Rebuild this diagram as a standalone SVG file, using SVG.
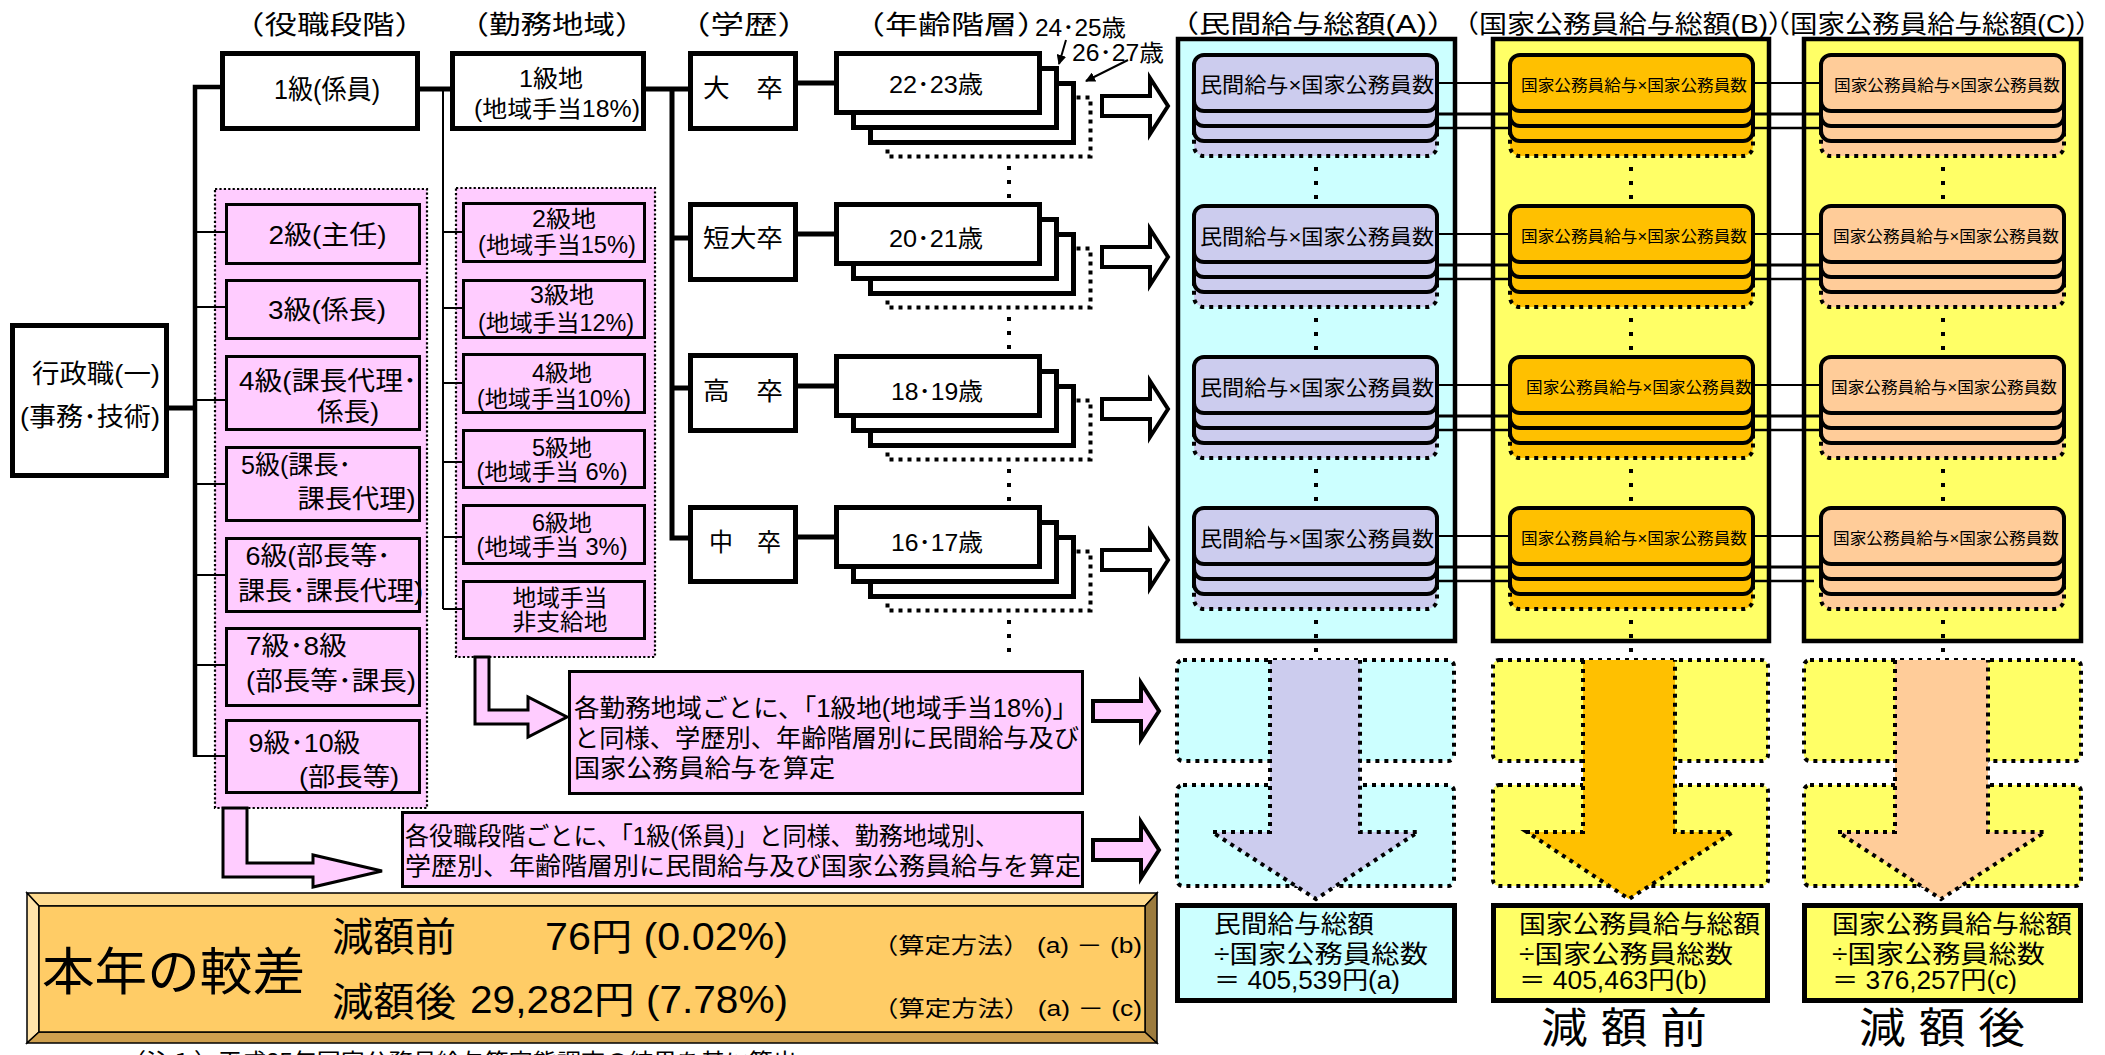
<svg xmlns="http://www.w3.org/2000/svg" width="2105" height="1055" viewBox="0 0 2105 1055">
<defs>
<style>
text{font-family:"Liberation Sans","Noto Sans CJK JP",sans-serif;fill:#000}
.m{text-anchor:middle}
.b5{fill:#fff;stroke:#000;stroke-width:5}
.pb{fill:#FFCCFF;stroke:#000;stroke-width:3}
.pc{fill:#FFCCFF;stroke:#000;stroke-width:2.2;stroke-dasharray:2.2 2.2}
.dot{stroke:#000;stroke-width:4;stroke-dasharray:4 5}
.dv{fill:none;stroke:#000;stroke-width:4;stroke-dasharray:4 10}
.k5{fill:none;stroke:#000;stroke-width:5}
.k4{fill:none;stroke:#000;stroke-width:4.5}
.k3{fill:none;stroke:#000;stroke-width:3}
.k2{fill:none;stroke:#000;stroke-width:2}
.cont{stroke:#000;stroke-width:4.5}
.card{stroke:#000;stroke-width:4}
.res{stroke:#000;stroke-width:5}
.bev{stroke:#000;stroke-width:1.5}
</style>
<marker id="ah" viewBox="0 0 10 10" refX="9" refY="5" markerWidth="5" markerHeight="5" orient="auto"><path d="M0,0 L10,5 L0,10 z" fill="#000"/></marker>
<g id="ageStack">
<rect x="53.5" y="46.5" width="203" height="59" fill="#fff" class="dot"/>
<rect x="36.5" y="32.5" width="203" height="59" class="b5"/>
<rect x="19.5" y="17.5" width="203" height="59" class="b5"/>
<rect x="2.5" y="2.5" width="203" height="59" class="b5"/>
</g>
<g id="cards">
<rect x="2" y="47" width="243" height="56" rx="10" class="dot"/>
<rect x="2" y="32" width="243" height="56" rx="10" class="card"/>
<rect x="2" y="17" width="243" height="56" rx="10" class="card"/>
<rect x="2" y="2" width="243" height="56" rx="10" class="card"/>
</g>
<path id="harr" d="M0,-10 H48 V-28 L66,0 L48,28 V10 H0 Z"/>
</defs>

<g id="headers">
<text class="m" x="329.5" y="34" font-size="26" textLength="195" lengthAdjust="spacingAndGlyphs">（役職段階）</text>
<text class="m" x="552" y="34" font-size="26" textLength="189" lengthAdjust="spacingAndGlyphs">（勤務地域）</text>
<text class="m" x="744" y="34" font-size="26" textLength="134" lengthAdjust="spacingAndGlyphs">（学歴）</text>
<text class="m" x="951" y="34" font-size="26" textLength="198" lengthAdjust="spacingAndGlyphs">（年齢階層）</text>
<text class="m" x="1313" y="33" font-size="25" textLength="290" lengthAdjust="spacingAndGlyphs">（民間給与総額(A)）</text>
<text class="m" x="1623.5" y="33" font-size="25" textLength="345" lengthAdjust="spacingAndGlyphs">（国家公務員給与総額(B)）</text>
<text class="m" x="1932.5" y="33" font-size="25" textLength="340" lengthAdjust="spacingAndGlyphs">（国家公務員給与総額(C)）</text>
<text x="1035" y="36" font-size="23" textLength="91" lengthAdjust="spacingAndGlyphs">24･25歳</text>
<text x="1072" y="61" font-size="23" textLength="92" lengthAdjust="spacingAndGlyphs">26･27歳</text>
</g>

<g id="containers">
<rect id="c-yakushoku" x="215" y="189" width="212" height="619" class="pc"/>
<rect id="c-kinmu" x="456" y="188" width="199" height="469" class="pc"/>
<rect id="c-A" x="1178" y="39" width="277" height="602" fill="#CCFFFF" class="cont"/>
<rect id="c-B" x="1493" y="39" width="276" height="602" fill="#FFFF66" class="cont"/>
<rect id="c-C" x="1804" y="39" width="277" height="602" fill="#FFFF66" class="cont"/>
</g>

<g id="connectors">
<path class="k4" d="M222,87 H195 V757"/>
<path class="k5" d="M169,408 H195"/>
<path class="k2" d="M195,232 H226 M195,307 H226 M195,400 H226 M195,484 H226 M195,575 H226 M195,665 H226 M195,756 H226"/>
<path class="k5" d="M420,89 H451"/>
<path class="k2" d="M443,89 V609 M443,232 H463 M443,308 H463 M443,383 H463 M443,462 H463 M443,537 H463 M443,609 H463"/>
<path class="k5" d="M645,89 H689 M672,89 V538 H689 M672,238 H689 M672,388 H689"/>
<path class="k5" d="M797,83 H835 M797,234 H835 M797,386 H835 M797,537 H835"/>
<path class="dv" d="M1009,166 V200 M1009,317 V351 M1009,469 V503 M1009,620 V654"/>
<path class="dv" d="M1316,167 V201 M1316,318 V352 M1316,469 V503 M1316,620 V654"/>
<path class="dv" d="M1631,167 V201 M1631,318 V352 M1631,469 V503 M1631,620 V654"/>
<path class="dv" d="M1943,167 V201 M1943,318 V352 M1943,469 V503 M1943,620 V654"/>
<path class="k2" d="M1439,83 H1508 M1439,234 H1508 M1439,385 H1508 M1439,536 H1508 M1755,83 H1819 M1755,234 H1819 M1755,385 H1819 M1755,536 H1819"/>
<path class="k3" d="M1439,114 H1508 M1439,265 H1508 M1439,416 H1508 M1439,567 H1508 M1755,114 H1819 M1755,265 H1819 M1755,416 H1819 M1755,567 H1819"/>
<path fill="none" stroke="#000" stroke-width="2.5" d="M1439,128 H1508 M1439,279 H1508 M1439,430 H1508 M1439,581 H1508 M1755,128 H1819 M1755,279 H1819 M1755,430 H1819 M1755,581 H1814"/>
<use href="#harr" x="1102" y="106" fill="#fff" stroke="#000" stroke-width="4"/>
<use href="#harr" x="1102" y="257" fill="#fff" stroke="#000" stroke-width="4"/>
<use href="#harr" x="1102" y="409" fill="#fff" stroke="#000" stroke-width="4"/>
<use href="#harr" x="1102" y="560" fill="#fff" stroke="#000" stroke-width="4"/>
<use href="#harr" x="1093" y="711" fill="#FFCCFF" stroke="#000" stroke-width="4"/>
<use href="#harr" x="1093" y="850" fill="#FFCCFF" stroke="#000" stroke-width="4"/>
<path class="pb" d="M223,808 H247 V863 H313 V855 L382,871 L313,887 V877 H223 Z"/>
<path class="pb" d="M475,657 H489 V710 H528 V697 L567,717 L528,737 V724 H475 Z"/>
<line x1="1066" y1="40" x2="1059" y2="64" stroke="#000" stroke-width="2" marker-end="url(#ah)"/>
<line x1="1128" y1="60" x2="1086" y2="81" stroke="#000" stroke-width="2" marker-end="url(#ah)"/>
</g>

<g id="n-gyoseishoku">
<rect x="12.5" y="325.5" width="154" height="150" class="b5"/>
<text class="m" x="96" y="383" font-size="26" textLength="128" lengthAdjust="spacingAndGlyphs">行政職(一)</text>
<text class="m" x="90" y="426" font-size="26" textLength="140" lengthAdjust="spacingAndGlyphs">(事務･技術)</text>
</g>

<g id="n-1kyu">
<rect x="222.5" y="53.5" width="195" height="75" class="b5"/>
<text class="m" x="327" y="99" font-size="27" textLength="106" lengthAdjust="spacingAndGlyphs">1級(係員)</text>
</g>
<g id="n-2kyu">
<rect x="226.5" y="204.5" width="193" height="59" class="pb"/>
<text class="m" x="327.5" y="244" font-size="26" textLength="118" lengthAdjust="spacingAndGlyphs">2級(主任)</text>
</g>
<g id="n-3kyu">
<rect x="226.5" y="280.5" width="193" height="58" class="pb"/>
<text class="m" x="327" y="319" font-size="26" textLength="118" lengthAdjust="spacingAndGlyphs">3級(係長)</text>
</g>
<g id="n-4kyu">
<rect x="226.5" y="356.5" width="193" height="73" class="pb"/>
<text class="m" x="328" y="390" font-size="26" textLength="178" lengthAdjust="spacingAndGlyphs">4級(課長代理･</text>
<text class="m" x="348" y="421" font-size="26" textLength="62" lengthAdjust="spacingAndGlyphs">係長)</text>
</g>
<g id="n-5kyu">
<rect x="226.5" y="447.5" width="193" height="73" class="pb"/>
<text class="m" x="296" y="474" font-size="26" textLength="110" lengthAdjust="spacingAndGlyphs">5級(課長･</text>
<text class="m" x="356.5" y="508" font-size="26" textLength="118" lengthAdjust="spacingAndGlyphs">課長代理)</text>
</g>
<g id="n-6kyu">
<rect x="226.5" y="538.5" width="193" height="73" class="pb"/>
<text class="m" x="318" y="565" font-size="26" textLength="145" lengthAdjust="spacingAndGlyphs">6級(部長等･</text>
<text class="m" x="330.5" y="600" font-size="26" textLength="185" lengthAdjust="spacingAndGlyphs">課長･課長代理)</text>
</g>
<g id="n-7kyu">
<rect x="226.5" y="628.5" width="193" height="77" class="pb"/>
<text class="m" x="296.5" y="655" font-size="26" textLength="101" lengthAdjust="spacingAndGlyphs">7級･8級</text>
<text class="m" x="331" y="690" font-size="26" textLength="170" lengthAdjust="spacingAndGlyphs">(部長等･課長)</text>
</g>
<g id="n-9kyu">
<rect x="226.5" y="720.5" width="193" height="72" class="pb"/>
<text class="m" x="304.5" y="752" font-size="26" textLength="112" lengthAdjust="spacingAndGlyphs">9級･10級</text>
<text class="m" x="349" y="786" font-size="26" textLength="100" lengthAdjust="spacingAndGlyphs">(部長等)</text>
</g>

<g id="n-1kyuchi">
<rect x="452.5" y="53.5" width="191" height="75" class="b5"/>
<text class="m" x="551" y="87" font-size="24" textLength="64" lengthAdjust="spacingAndGlyphs">1級地</text>
<text class="m" x="557" y="117" font-size="23" textLength="166" lengthAdjust="spacingAndGlyphs">(地域手当18%)</text>
</g>
<g id="n-2kyuchi">
<rect x="463.5" y="203.5" width="181" height="58" class="pb"/>
<text class="m" x="564" y="227" font-size="23" textLength="64" lengthAdjust="spacingAndGlyphs">2級地</text>
<text class="m" x="557" y="253" font-size="23" textLength="158" lengthAdjust="spacingAndGlyphs">(地域手当15%)</text>
</g>
<g id="n-3kyuchi">
<rect x="463.5" y="280.5" width="181" height="57" class="pb"/>
<text class="m" x="562" y="303" font-size="23" textLength="64" lengthAdjust="spacingAndGlyphs">3級地</text>
<text class="m" x="556" y="331" font-size="23" textLength="156" lengthAdjust="spacingAndGlyphs">(地域手当12%)</text>
</g>
<g id="n-4kyuchi">
<rect x="463.5" y="354.5" width="181" height="58" class="pb"/>
<text class="m" x="562" y="381" font-size="23" textLength="60" lengthAdjust="spacingAndGlyphs">4級地</text>
<text class="m" x="554" y="407" font-size="23" textLength="154" lengthAdjust="spacingAndGlyphs">(地域手当10%)</text>
</g>
<g id="n-5kyuchi">
<rect x="463.5" y="430.5" width="181" height="57" class="pb"/>
<text class="m" x="562" y="456" font-size="23" textLength="60" lengthAdjust="spacingAndGlyphs">5級地</text>
<text class="m" x="552" y="480" font-size="23" textLength="151" lengthAdjust="spacingAndGlyphs">(地域手当 6%)</text>
</g>
<g id="n-6kyuchi">
<rect x="463.5" y="505.5" width="181" height="58" class="pb"/>
<text class="m" x="562" y="531" font-size="23" textLength="60" lengthAdjust="spacingAndGlyphs">6級地</text>
<text class="m" x="552" y="555" font-size="23" textLength="151" lengthAdjust="spacingAndGlyphs">(地域手当 3%)</text>
</g>
<g id="n-hishikyu">
<rect x="463.5" y="581.5" width="181" height="57" class="pb"/>
<text class="m" x="560" y="606" font-size="23" textLength="95" lengthAdjust="spacingAndGlyphs">地域手当</text>
<text class="m" x="560" y="630" font-size="23" textLength="95" lengthAdjust="spacingAndGlyphs">非支給地</text>
</g>

<g id="n-daisotsu">
<rect x="690.5" y="53.5" width="105" height="75" class="b5"/>
<text class="m" x="743" y="97" font-size="25" textLength="80" lengthAdjust="spacingAndGlyphs">大　卒</text>
</g>
<g id="n-tandai">
<rect x="690.5" y="204.5" width="105" height="75" class="b5"/>
<text class="m" x="743" y="247" font-size="25" textLength="80" lengthAdjust="spacingAndGlyphs">短大卒</text>
</g>
<g id="n-kousotsu">
<rect x="690.5" y="355.5" width="105" height="75" class="b5"/>
<text class="m" x="743" y="400" font-size="25" textLength="80" lengthAdjust="spacingAndGlyphs">高　卒</text>
</g>
<g id="n-chuusotsu">
<rect x="690.5" y="507.5" width="105" height="74" class="b5"/>
<text class="m" x="745" y="551" font-size="25" textLength="72" lengthAdjust="spacingAndGlyphs">中　卒</text>
</g>

<g id="n-age1">
<use href="#ageStack" x="834" y="51"/>
<text class="m" x="936" y="93" font-size="24" textLength="94" lengthAdjust="spacingAndGlyphs">22･23歳</text>
</g>
<g id="n-age2">
<use href="#ageStack" x="834" y="202"/>
<text class="m" x="936" y="247" font-size="24" textLength="94" lengthAdjust="spacingAndGlyphs">20･21歳</text>
</g>
<g id="n-age3">
<use href="#ageStack" x="834" y="354"/>
<text class="m" x="937" y="400" font-size="24" textLength="92" lengthAdjust="spacingAndGlyphs">18･19歳</text>
</g>
<g id="n-age4">
<use href="#ageStack" x="834" y="505"/>
<text class="m" x="937" y="551" font-size="24" textLength="92" lengthAdjust="spacingAndGlyphs">16･17歳</text>
</g>

<g id="n-A-cards">
<use href="#cards" x="1192" y="53" fill="#CCCCEE"/>
<use href="#cards" x="1192" y="204" fill="#CCCCEE"/>
<use href="#cards" x="1192" y="355" fill="#CCCCEE"/>
<use href="#cards" x="1192" y="506" fill="#CCCCEE"/>
<text class="m" x="1317" y="92" font-size="21" textLength="234" lengthAdjust="spacingAndGlyphs">民間給与×国家公務員数</text>
<text class="m" x="1317" y="244" font-size="21" textLength="234" lengthAdjust="spacingAndGlyphs">民間給与×国家公務員数</text>
<text class="m" x="1317" y="395" font-size="21" textLength="234" lengthAdjust="spacingAndGlyphs">民間給与×国家公務員数</text>
<text class="m" x="1317" y="546" font-size="21" textLength="234" lengthAdjust="spacingAndGlyphs">民間給与×国家公務員数</text>
</g>
<g id="n-B-cards">
<use href="#cards" x="1508" y="53" fill="#FFC000"/>
<use href="#cards" x="1508" y="204" fill="#FFC000"/>
<use href="#cards" x="1508" y="355" fill="#FFC000"/>
<use href="#cards" x="1508" y="506" fill="#FFC000"/>
<text class="m" x="1634" y="91" font-size="16" textLength="226" lengthAdjust="spacingAndGlyphs">国家公務員給与×国家公務員数</text>
<text class="m" x="1634" y="242" font-size="16" textLength="226" lengthAdjust="spacingAndGlyphs">国家公務員給与×国家公務員数</text>
<text class="m" x="1639" y="393" font-size="16" textLength="226" lengthAdjust="spacingAndGlyphs">国家公務員給与×国家公務員数</text>
<text class="m" x="1634" y="544" font-size="16" textLength="226" lengthAdjust="spacingAndGlyphs">国家公務員給与×国家公務員数</text>
</g>
<g id="n-C-cards">
<use href="#cards" x="1819" y="53" fill="#FFCC99"/>
<use href="#cards" x="1819" y="204" fill="#FFCC99"/>
<use href="#cards" x="1819" y="355" fill="#FFCC99"/>
<use href="#cards" x="1819" y="506" fill="#FFCC99"/>
<text class="m" x="1947" y="91" font-size="16" textLength="226" lengthAdjust="spacingAndGlyphs">国家公務員給与×国家公務員数</text>
<text class="m" x="1946" y="242" font-size="16" textLength="226" lengthAdjust="spacingAndGlyphs">国家公務員給与×国家公務員数</text>
<text class="m" x="1944" y="393" font-size="16" textLength="226" lengthAdjust="spacingAndGlyphs">国家公務員給与×国家公務員数</text>
<text class="m" x="1946" y="544" font-size="16" textLength="226" lengthAdjust="spacingAndGlyphs">国家公務員給与×国家公務員数</text>
</g>

<g id="n-kinmu-note">
<rect x="569.5" y="671.5" width="513" height="122" class="pb"/>
<text x="574" y="717" font-size="25" textLength="504" lengthAdjust="spacingAndGlyphs">各勤務地域ごとに、「1級地(地域手当18%)」</text>
<text x="574" y="747" font-size="25" textLength="505" lengthAdjust="spacingAndGlyphs">と同様、学歴別、年齢階層別に民間給与及び</text>
<text x="574" y="777" font-size="25" textLength="261" lengthAdjust="spacingAndGlyphs">国家公務員給与を算定</text>
</g>
<g id="n-yakushoku-note">
<rect x="402.5" y="812.5" width="680" height="74" class="pb"/>
<text x="405" y="845" font-size="25" textLength="594" lengthAdjust="spacingAndGlyphs">各役職段階ごとに、「1級(係員)」と同様、勤務地域別、</text>
<text x="405" y="875" font-size="25" textLength="676" lengthAdjust="spacingAndGlyphs">学歴別、年齢階層別に民間給与及び国家公務員給与を算定</text>
</g>

<g id="n-flowA">
<rect x="1177" y="660" width="277" height="101" rx="6" fill="#CCFFFF" class="dot"/>
<rect x="1177" y="785" width="277" height="101" rx="6" fill="#CCFFFF" class="dot"/>
<path d="M1270,660 V832 H1212 L1316,899 L1418,832 H1360 V660" fill="#CCCCEE" class="dot"/>
</g>
<g id="n-flowB">
<rect x="1493" y="660" width="275" height="101" rx="6" fill="#FFFF66" class="dot"/>
<rect x="1493" y="785" width="275" height="101" rx="6" fill="#FFFF66" class="dot"/>
<path d="M1583,660 V832 H1527 L1629,899 L1733,832 H1675 V660" fill="#FFC000" class="dot"/>
</g>
<g id="n-flowC">
<rect x="1804" y="660" width="277" height="101" rx="6" fill="#FFFF66" class="dot"/>
<rect x="1804" y="785" width="277" height="101" rx="6" fill="#FFFF66" class="dot"/>
<path d="M1895,660 V832 H1838 L1941,899 L2045,832 H1988 V660" fill="#FFCC99" class="dot"/>
</g>

<g id="n-resA">
<rect x="1177.5" y="905.5" width="277" height="95" fill="#CCFFFF" class="res"/>
<text x="1214" y="933" font-size="25" textLength="160" lengthAdjust="spacingAndGlyphs">民間給与総額</text>
<text x="1214" y="963" font-size="25" textLength="214" lengthAdjust="spacingAndGlyphs">÷国家公務員総数</text>
<text x="1214" y="989" font-size="25" textLength="186" lengthAdjust="spacingAndGlyphs">＝ 405,539円(a)</text>
</g>
<g id="n-resB">
<rect x="1493.5" y="905.5" width="274" height="95" fill="#FFFF66" class="res"/>
<text x="1519" y="933" font-size="25" textLength="241" lengthAdjust="spacingAndGlyphs">国家公務員給与総額</text>
<text x="1519" y="963" font-size="25" textLength="214" lengthAdjust="spacingAndGlyphs">÷国家公務員総数</text>
<text x="1519" y="989" font-size="25" textLength="188" lengthAdjust="spacingAndGlyphs">＝ 405,463円(b)</text>
</g>
<g id="n-resC">
<rect x="1804.5" y="905.5" width="276" height="95" fill="#FFFF66" class="res"/>
<text x="1832" y="933" font-size="25" textLength="240" lengthAdjust="spacingAndGlyphs">国家公務員給与総額</text>
<text x="1832" y="963" font-size="25" textLength="213" lengthAdjust="spacingAndGlyphs">÷国家公務員総数</text>
<text x="1832" y="989" font-size="25" textLength="185" lengthAdjust="spacingAndGlyphs">＝ 376,257円(c)</text>
</g>

<g id="n-kousa">
<polygon points="27,893 1157,893 1145,906 39,906" fill="#FFDB8F" class="bev"/>
<polygon points="27,893 39,906 39,1032 27,1043" fill="#FFE3AA" class="bev"/>
<polygon points="27,1043 39,1032 1145,1032 1157,1043" fill="#CFA04F" class="bev"/>
<polygon points="1157,893 1157,1043 1145,1032 1145,906" fill="#9C7B3D" class="bev"/>
<rect x="39" y="906" width="1106" height="126" fill="#FFCC66" class="bev"/>
<text x="42" y="990" font-size="51" textLength="263" lengthAdjust="spacingAndGlyphs">本年の較差</text>
<text x="332" y="951" font-size="40" textLength="124" lengthAdjust="spacingAndGlyphs">減額前</text>
<text x="545" y="950" font-size="38" textLength="243" lengthAdjust="spacingAndGlyphs">76円 (0.02%)</text>
<text x="872" y="953" font-size="22" textLength="270" lengthAdjust="spacingAndGlyphs">（算定方法） (a) － (b)</text>
<text x="332" y="1016" font-size="40" textLength="124" lengthAdjust="spacingAndGlyphs">減額後</text>
<text x="470" y="1013" font-size="38" textLength="318" lengthAdjust="spacingAndGlyphs">29,282円 (7.78%)</text>
<text x="872" y="1016" font-size="22" textLength="270" lengthAdjust="spacingAndGlyphs">（算定方法） (a) － (c)</text>
</g>

<g id="labels">
<text x="1541" y="1043" font-size="42" textLength="166" lengthAdjust="spacingAndGlyphs">減 額 前</text>
<text x="1859" y="1043" font-size="42" textLength="166" lengthAdjust="spacingAndGlyphs">減 額 後</text>
<text x="122" y="1070" font-size="23" textLength="675" lengthAdjust="spacingAndGlyphs">（注１）平成25年国家公務員給与等実態調査の結果を基に算出</text>
</g>
</svg>
